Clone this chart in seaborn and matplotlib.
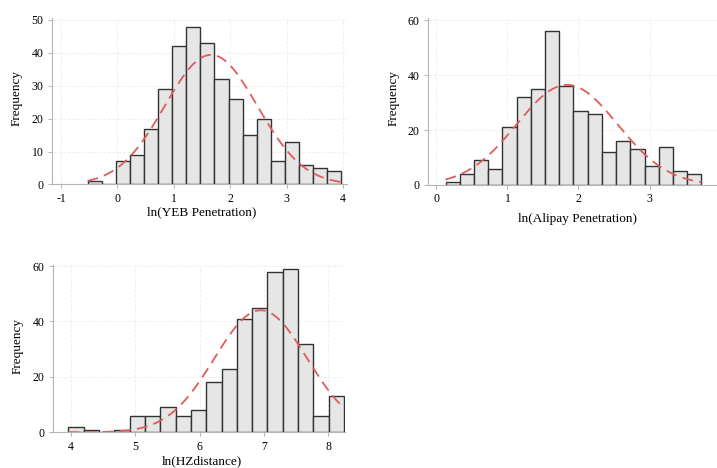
import numpy as np
import pandas as pd
import matplotlib
matplotlib.use("Agg")
import matplotlib.pyplot as plt
import seaborn as sns

# ---- data ----
yeb_start = -0.53
yeb_width = 0.25
yeb_counts = [1, 0, 7, 9, 17, 29, 42, 48, 43, 32, 26, 15, 20, 7, 13, 6, 5, 4]
yeb_mu, yeb_sd = 1.66, 0.82

ali_start = 0.13
ali_width = 0.20
ali_counts = [1, 4, 9, 6, 21, 32, 35, 56, 36, 27, 26, 12, 16, 13, 7, 14, 5, 4]
ali_mu, ali_sd = 1.84, 0.71

hz_start = 3.96
hz_width = 0.238
hz_counts = [2, 1, 0, 1, 6, 6, 9, 6, 8, 18, 23, 41, 45, 58, 59, 32, 6, 13]
hz_mu, hz_sd = 6.95, 0.72

yeb_xticks = [-1, 0, 1, 2, 3, 4]
yeb_yticks = [0, 10, 20, 30, 40, 50]
ali_xticks = [0, 1, 2, 3]
ali_yticks = [0, 20, 40, 60]
hz_xticks = [4, 5, 6, 7, 8]
hz_yticks = [0, 20, 40, 60]

labels = ["ln(YEB Penetration)", "ln(Alipay Penetration)", "ln(HZdistance)"]

sns.set_theme(style="white")
plt.rcParams['font.family'] = ['Liberation Serif', 'DejaVu Serif']

W, H = 717, 468
fig = plt.figure(figsize=(W / 100, H / 100), dpi=100)
fig.patch.set_facecolor("white")


def rect(left, right, top, bottom):
    return [left / W, 1 - bottom / H, (right - left) / W, (bottom - top) / H]


panels = [
    dict(r=rect(52, 347, 18, 184.5), start=yeb_start, width=yeb_width, counts=yeb_counts,
         mu=yeb_mu, sd=yeb_sd, xlim=(-1.16, 4.07), ylim=(0, 50.6),
         xt=yeb_xticks, yt=yeb_yticks, lab=labels[0], ylc=(-0.098, 0.52), xlc=(0.508, -0.13)),
    dict(r=rect(428, 717, 18.5, 185), start=ali_start, width=ali_width, counts=ali_counts,
         mu=ali_mu, sd=ali_sd, xlim=(-0.118, 3.95), ylim=(0, 60.55),
         xt=ali_xticks, yt=ali_yticks, lab=labels[1], ylc=(-0.097, 0.52), xlc=(0.519, -0.17)),
    dict(r=rect(52.7, 345, 264.5, 432.3), start=hz_start, width=hz_width, counts=hz_counts,
         mu=hz_mu, sd=hz_sd, xlim=(3.715, 8.26), ylim=(0, 60.55),
         xt=hz_xticks, yt=hz_yticks, lab=labels[2], ylc=(-0.098, 0.517), xlc=(0.511, -0.137)),
]

for p in panels:
    ax = fig.add_axes(p["r"])
    counts = np.array(p["counts"], dtype=float)
    edges = p["start"] + p["width"] * np.arange(len(counts) + 1)
    centers = edges[:-1] + p["width"] / 2
    df = pd.DataFrame({"x": centers, "w": counts})
    sns.histplot(data=df, x="x", weights="w", bins=list(edges), ax=ax, stat="count",
                 color="#e6e6e6", edgecolor="#333333", linewidth=1.0, alpha=1.0)
    n = counts.sum()
    xs = np.linspace(edges[0], edges[-1], 200)
    ys = n * p["width"] * np.exp(-0.5 * ((xs - p["mu"]) / p["sd"]) ** 2) / (p["sd"] * np.sqrt(2 * np.pi))
    sns.lineplot(x=xs, y=ys, ax=ax, color="#e05c5c", linewidth=1.3)
    ax.lines[-1].set_dashes((6, 3.5))

    ax.set_xlim(*p["xlim"])
    ax.set_ylim(*p["ylim"])
    ax.set_xticks(p["xt"])
    ax.set_yticks(p["yt"])
    ax.set_xticklabels([str(v) for v in p["xt"]])
    ax.set_yticklabels([str(v) for v in p["yt"]])
    ax.grid(True, color="#ededed", linewidth=0.6, linestyle=(0, (4, 2)))
    ax.set_axisbelow(True)
    for s in ["top", "right"]:
        ax.spines[s].set_visible(False)
    for s in ["left", "bottom"]:
        ax.spines[s].set_color("#b4b4b4")
        ax.spines[s].set_linewidth(0.8)
    ax.tick_params(axis="both", direction="out", length=3, width=0.7, color="#b4b4b4",
                   labelsize=8.5, labelcolor="black", pad=3, bottom=True, left=True)
    ax.set_xlabel(p["lab"], fontsize=9.5, color="black")
    ax.set_ylabel("Frequency", fontsize=9.5, color="black")
    ax.xaxis.set_label_coords(*p["xlc"])
    ax.yaxis.set_label_coords(*p["ylc"])
    ax.set_facecolor("white")

fig.savefig("out.png", dpi=100, facecolor="white")
